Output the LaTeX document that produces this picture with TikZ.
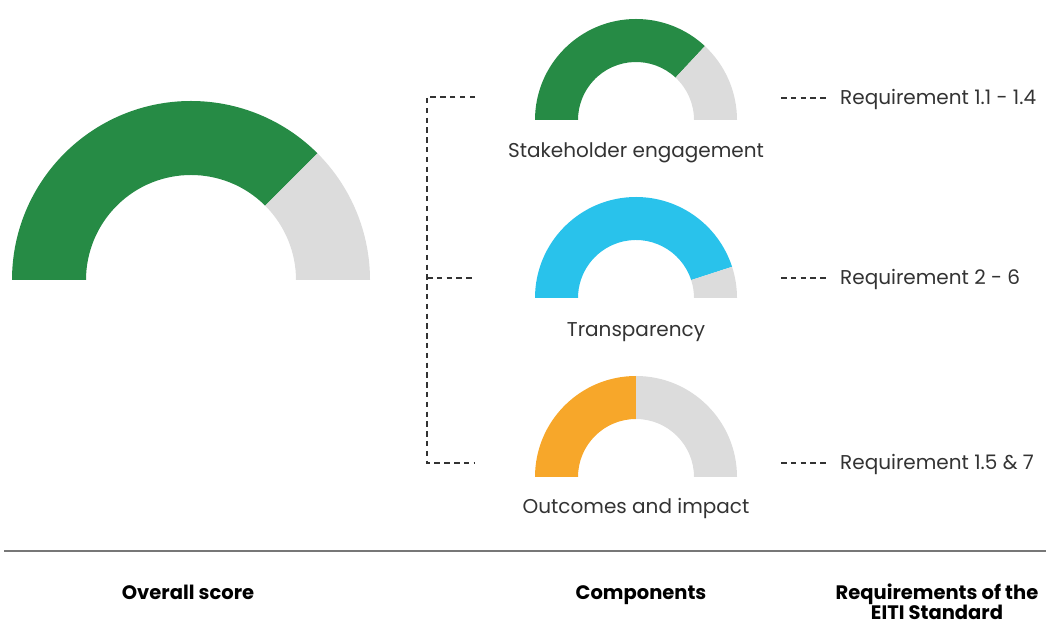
\documentclass[tikz,border=0pt]{standalone}
\usepackage{fontspec}
\setmainfont{Poppins}
\definecolor{scoregreen}{HTML}{268B45}
\definecolor{scoreblue}{HTML}{29C2EB}
\definecolor{scoreorange}{HTML}{F7A72A}
\definecolor{scoregray}{HTML}{DCDCDC}
\definecolor{textgray}{HTML}{333333}
\definecolor{rulegray}{HTML}{777777}
\tikzset{
	gaugelabel/.style = {align=center, inner sep=0pt, text=textgray, font=\fontsize{20}{24}\selectfont},
	reqlabel/.style = {anchor=west, inner sep=0pt, text=textgray, font=\fontsize{20}{24}\selectfont},
	headlabel/.style = {align=center, inner sep=0pt, text=black, font=\fontsize{19.5}{24}\selectfont\bfseries},
	connector/.style = {draw=textgray, line width=1.3pt, dash pattern=on 5.5pt off 4.3pt}
}
\newcommand\gaugearc[6]{%
	\fill[#6] ([shift={(#4:#2)}]#1) arc[start angle=#4, end angle=#5, radius=#2]
		-- ([shift={(#5:#3)}]#1) arc[start angle=#5, end angle=#4, radius=#3] -- cycle;}

\begin{document}
\begin{tikzpicture}[x=1pt, y=1pt]
		\useasboundingbox (0,0) rectangle (1046,626);
		\coordinate (overall) at (191,346);
		\coordinate (stake) at (636,506);
		\coordinate (transp) at (636,328);
		\coordinate (outcome) at (636,149);
		\gaugearc{overall}{179}{105}{180}{45}{scoregreen}
		\gaugearc{overall}{179}{105}{45}{0}{scoregray}
		\gaugearc{stake}{101}{58}{180}{47}{scoregreen}
		\gaugearc{stake}{101}{58}{47}{0}{scoregray}
		\gaugearc{transp}{101}{58}{180}{18}{scoreblue}
		\gaugearc{transp}{101}{58}{18}{0}{scoregray}
		\gaugearc{outcome}{101}{58}{180}{90}{scoreorange}
		\gaugearc{outcome}{101}{58}{90}{0}{scoregray}
		\node [gaugelabel] (stakelbl) at (636,473) {Stakeholder engagement};
		\node [gaugelabel] (transplbl) at (636,294) {Transparency};
		\node [gaugelabel] (outcomelbl) at (636,118) {Outcomes and impact};
		\coordinate (b1) at (427,529);
		\coordinate (b2) at (427,348);
		\coordinate (b3) at (427,163);
		\coordinate (c1) at (475,529);
		\coordinate (c2) at (475,348);
		\coordinate (c3) at (475,163);
		\coordinate (r1) at (781,528);
		\coordinate (r2) at (781,348);
		\coordinate (r3) at (781,163);
		\node [reqlabel] (req1) at (840,527) {Requirement 1.1 - 1.4};
		\node [reqlabel] (req2) at (840,347) {Requirement 2 - 6};
		\node [reqlabel] (req3) at (840,162) {Requirement 1.5 \& 7};
		\draw [connector] (c1) -- (b1) -- (b3) -- (c3);
		\draw [connector] (b2) -- (c2);
		\draw [connector] (r1) -- ([xshift=-11pt]req1.west |- r1);
		\draw [connector] (r2) -- ([xshift=-11pt]req2.west |- r2);
		\draw [connector] (r3) -- ([xshift=-11pt]req3.west |- r3);
		\draw [rulegray, line width=1.5pt] (4,75) -- (1046,75);
		\node [headlabel, anchor=base] (overalllbl) at (188,27) {Overall score};
		\node [headlabel, anchor=base] (complbl) at (641,27) {Components};
		\node [headlabel, anchor=base] (reqlbl) at (937,27) {Requirements of the};
		\node [headlabel, anchor=base] (eitilbl) at (937,6) {EITI Standard};
\end{tikzpicture}
\end{document}
